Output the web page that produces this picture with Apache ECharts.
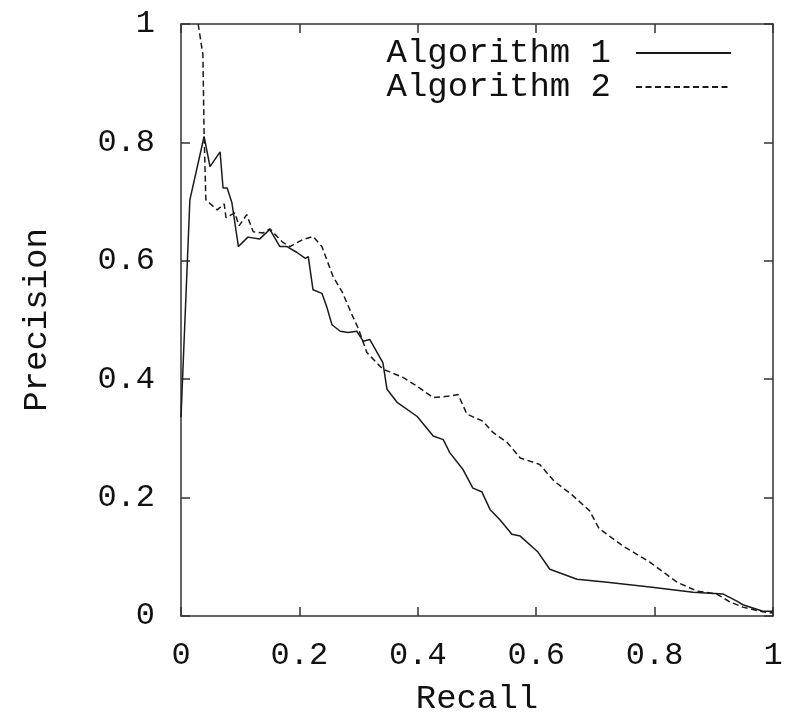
<!DOCTYPE html>
<html>
<head>
<meta charset="utf-8">
<script src="https://cdn.jsdelivr.net/npm/echarts@6/dist/echarts.min.js"></script>
<style>html,body{margin:0;padding:0;background:#fff;}#c{width:795px;height:721px;}</style>
</head>
<body>
<div id="c"></div>
<script>
var seriesNames = ['Algorithm 1', 'Algorithm 2'];
var xTicks = [0, 0.2, 0.4, 0.6, 0.8, 1];
var yTicks = [0, 0.2, 0.4, 0.6, 0.8, 1];

var recall1 = [0, 0.015, 0.039, 0.049, 0.066, 0.071, 0.078, 0.086, 0.097, 0.113, 0.133, 0.15, 0.167, 0.179, 0.196, 0.21, 0.215, 0.223, 0.238, 0.246, 0.255, 0.269, 0.282, 0.297, 0.308, 0.319, 0.341, 0.348, 0.365, 0.399, 0.426, 0.443, 0.454, 0.476, 0.493, 0.508, 0.522, 0.539, 0.559, 0.573, 0.603, 0.623, 0.669, 0.72, 0.792, 0.865, 0.916, 0.939, 0.949, 0.983, 1.0];
var precision1 = [0.336, 0.703, 0.81, 0.759, 0.784, 0.723, 0.723, 0.698, 0.624, 0.64, 0.637, 0.653, 0.624, 0.624, 0.614, 0.604, 0.607, 0.551, 0.545, 0.523, 0.492, 0.481, 0.479, 0.481, 0.464, 0.467, 0.428, 0.383, 0.361, 0.337, 0.304, 0.298, 0.276, 0.248, 0.216, 0.21, 0.18, 0.162, 0.138, 0.135, 0.108, 0.079, 0.062, 0.057, 0.049, 0.04, 0.037, 0.025, 0.019, 0.008, 0.008];

var recall2 = [0.029, 0.037, 0.039, 0.042, 0.061, 0.073, 0.076, 0.091, 0.098, 0.111, 0.122, 0.139, 0.15, 0.171, 0.184, 0.206, 0.223, 0.238, 0.257, 0.272, 0.291, 0.299, 0.314, 0.341, 0.375, 0.399, 0.426, 0.449, 0.468, 0.483, 0.51, 0.527, 0.551, 0.573, 0.606, 0.63, 0.66, 0.69, 0.706, 0.747, 0.792, 0.838, 0.872, 0.905, 0.927, 0.949, 0.983, 1.0];
var precision2 = [1.0, 0.948, 0.816, 0.703, 0.686, 0.696, 0.673, 0.681, 0.659, 0.678, 0.649, 0.647, 0.654, 0.632, 0.624, 0.636, 0.641, 0.624, 0.573, 0.548, 0.504, 0.487, 0.445, 0.417, 0.403, 0.388, 0.369, 0.371, 0.374, 0.341, 0.329, 0.31, 0.293, 0.267, 0.256, 0.228, 0.205, 0.178, 0.148, 0.118, 0.091, 0.057, 0.042, 0.037, 0.024, 0.015, 0.007, 0.005];

function pairs(xs, ys) { return xs.map(function (x, i) { return [x, ys[i]]; }); }

var FONT = 'Liberation Mono';
var axisColor = '#333';
function fmt(v) { return String(Math.round(v * 10) / 10); }

var chart = echarts.init(document.getElementById('c'), null, { renderer: 'canvas' });
function baseAxis(extra) {
  return Object.assign({
    type: 'value', min: 0, max: 1, interval: 0.2,
    axisLine: { show: true, onZero: false, lineStyle: { color: axisColor, width: 1.5 } },
    axisTick: { show: true, inside: true, length: 9, lineStyle: { color: axisColor, width: 1.5 } },
    splitLine: { show: false }
  }, extra);
}
chart.setOption({
  animation: false,
  backgroundColor: '#fff',
  grid: { left: 181, right: 22, top: 24, bottom: 104, containLabel: false },
  legend: {
    data: seriesNames,
    orient: 'vertical',
    align: 'right',
    right: 63,
    top: 36,
    padding: 0,
    itemGap: 0,
    itemWidth: 95,
    itemHeight: 33,
    itemStyle: { opacity: 0 },
    textStyle: { fontFamily: FONT, fontSize: 34, color: '#111', lineHeight: 33, padding: [0, 20, 0, 0] }
  },
  xAxis: [
    baseAxis({
      min: xTicks[0], max: xTicks[xTicks.length - 1],
      position: 'bottom',
      name: 'Recall', nameLocation: 'middle', nameGap: 66,
      nameTextStyle: { fontFamily: FONT, fontSize: 34, color: '#111' },
      axisLabel: { show: true, margin: 24, fontFamily: FONT, fontSize: 32, color: '#111', formatter: fmt }
    }),
    baseAxis({ position: 'top', axisLabel: { show: false } })
  ],
  yAxis: [
    baseAxis({
      min: yTicks[0], max: yTicks[yTicks.length - 1],
      position: 'left',
      name: 'Precision', nameLocation: 'middle', nameGap: 127,
      nameTextStyle: { fontFamily: FONT, fontSize: 34, color: '#111' },
      axisLabel: { show: true, margin: 26, fontFamily: FONT, fontSize: 32, color: '#111', formatter: fmt }
    }),
    baseAxis({ position: 'right', axisLabel: { show: false } })
  ],
  series: [
    {
      name: seriesNames[0], type: 'line', xAxisIndex: 0, yAxisIndex: 0,
      data: pairs(recall1, precision1), showSymbol: false, symbol: 'none',
      lineStyle: { color: '#1a1a1a', width: 1.5, type: 'solid' },
      itemStyle: { color: '#1a1a1a' }, clip: true
    },
    {
      name: seriesNames[1], type: 'line', xAxisIndex: 0, yAxisIndex: 0,
      data: pairs(recall2, precision2), showSymbol: false, symbol: 'none',
      lineStyle: { color: '#1a1a1a', width: 1.5, type: [6, 3.5] },
      itemStyle: { color: '#1a1a1a' }, clip: true
    }
  ]
});
</script>
</body>
</html>
